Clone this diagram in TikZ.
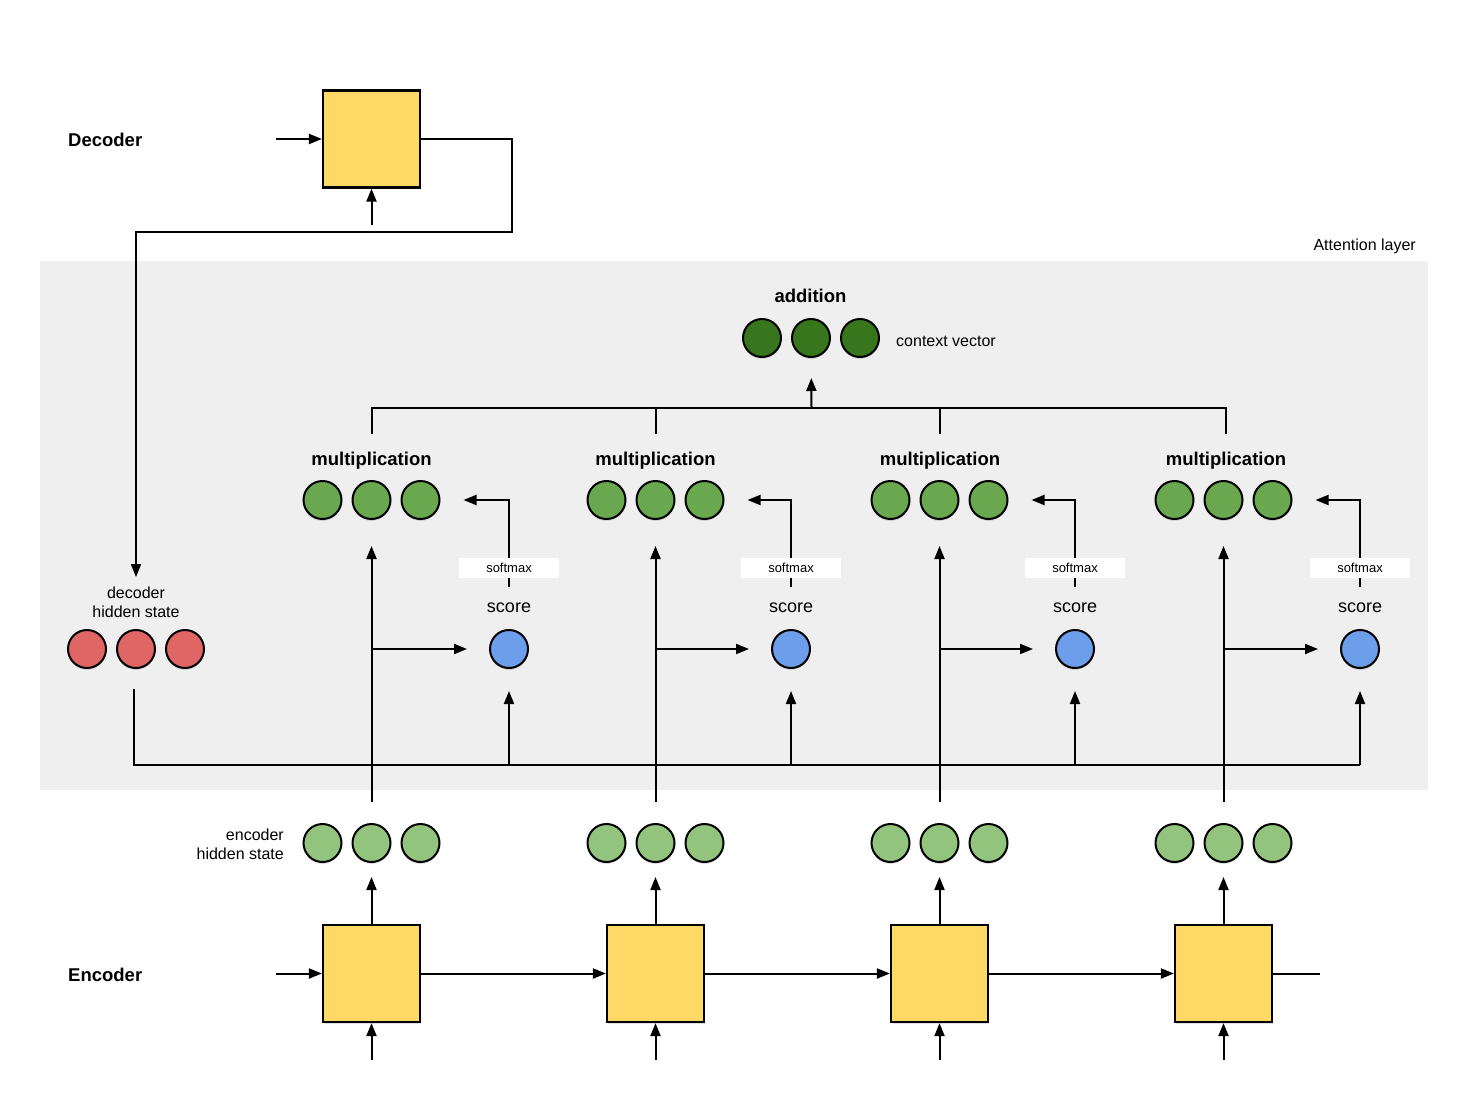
\documentclass[tikz,border=0pt]{standalone}
\usepackage{fontspec}
\setmainfont{Liberation Sans}
\usetikzlibrary{arrows.meta,shadows}
\definecolor{cellyellow}{HTML}{FFD966}
\definecolor{midgreen}{HTML}{6AA84F}
\definecolor{lightgreen}{HTML}{93C47D}
\definecolor{darkgreen}{HTML}{38761D}
\definecolor{softred}{HTML}{E06666}
\definecolor{softblue}{HTML}{6D9EEB}
\definecolor{attnbg}{HTML}{EFEFEF}
\tikzset{
  cell/.style={draw=black, fill=cellyellow, line width=2.2pt, minimum size=97pt, inner sep=0pt,
    drop shadow={shadow xshift=1pt, shadow yshift=-2pt, opacity=0.25}},
  dot/.style={circle, draw=black, line width=2pt, minimum size=38pt, inner sep=0pt,
    drop shadow={shadow xshift=0pt, shadow yshift=-2pt, opacity=0.25}},
  wire/.style={draw=black, line width=2pt},
  arr/.style={wire, -{Triangle[length=13pt,width=10pt]}},
  boldlbl/.style={font=\fontsize{18.5}{22}\selectfont\bfseries, inner sep=0pt},
  lbl/.style={font=\fontsize{16}{19}\selectfont, inner sep=0pt},
  scorelbl/.style={font=\fontsize{18}{21}\selectfont, inner sep=0pt},
  softbox/.style={fill=white, minimum width=100pt, minimum height=20pt, inner sep=0pt,
    font=\fontsize{13}{15}\selectfont}
}
\begin{document}
\begin{tikzpicture}[x=1pt,y=-1pt]
\useasboundingbox (0,0) rectangle (1463,1110);
\fill[attnbg] (40,261) rectangle (1428,790);
\node[lbl, anchor=east] (attnlbl) at (1416,246) {Attention layer};

% Decoder
\node[boldlbl, anchor=west] (declbl) at (68,140) {Decoder};
\node[cell] (dec) at (371.5,139) {};
\coordinate (decin) at (276,139);
\coordinate (decbot) at (371.5,225);
\coordinate (turn) at (512,232);
\coordinate (dhin) at (136,577);
\draw[arr] (decin) -- (dec);
\draw[arr] (decbot) -- (dec);
\draw[arr] (dec.east) -| (turn) -| (dhin);

% decoder hidden state
\node[lbl, align=center] (dhlbl) at (136,602.5) {decoder\\hidden state};
\node[dot, fill=softred] (dh1) at (87,649) {};
\node[dot, fill=softred] (dh2) at (136,649) {};
\node[dot, fill=softred] (dh3) at (185,649) {};

% context vector
\node[boldlbl] (addlbl) at (810.5,296) {addition};
\node[dot, fill=darkgreen] (cv1) at (762,338) {};
\node[dot, fill=darkgreen] (cv2) at (811,338) {};
\node[dot, fill=darkgreen] (cv3) at (860,338) {};
\node[lbl, anchor=west] (cvlbl) at (896,341) {context vector};
\coordinate (busup) at (811.5,408);
\draw[arr, shorten >=20pt] (busup) -- (cv2);

% Encoder
\node[boldlbl, anchor=west] (enclbl) at (68,975) {Encoder};
\node[lbl, align=right, anchor=east] (ehlbl) at (284,844.5) {encoder\\hidden state};

\foreach \i/\ex/\sx/\tx in {1/371.5/509/371.5, 2/655.5/791/655.5, 3/939.5/1075/940, 4/1223.5/1360/1226}{
  % encoder cell and hidden state
  \node[cell] (enc\i) at (\ex,973.5) {};
  \node[dot, fill=lightgreen] (eha\i) at (\ex-49,843) {};
  \node[dot, fill=lightgreen] (ehb\i) at (\ex,843) {};
  \node[dot, fill=lightgreen] (ehc\i) at (\ex+49,843) {};
  \coordinate (ein\i) at (\ex,1060);
  \draw[arr] (ein\i) -- (enc\i);
  \draw[arr, shorten >=14pt] (enc\i) -- (ehb\i);
  % multiplication
  \node[boldlbl] (mlbl\i) at (\tx,460.5) {multiplication};
  \node[dot, fill=midgreen] (ma\i) at (\ex-49,500) {};
  \node[dot, fill=midgreen] (mb\i) at (\ex,500) {};
  \node[dot, fill=midgreen] (mc\i) at (\ex+49,500) {};
  \coordinate (vb\i) at (\ex,802);
  \draw[arr, shorten >=26pt] (vb\i) -- (mb\i);
  % score
  \node[dot, fill=softblue] (s\i) at (\sx,649) {};
  \node[scorelbl] (sl\i) at (\sx,608) {score};
  \coordinate (br\i) at (\ex,649);
  \draw[arr, shorten >=22pt] (br\i) -- (s\i);
  \coordinate (st\i) at (\sx,587);
  \draw[arr, shorten >=23pt] (st\i) |- (mc\i);
  \node[softbox] (sm\i) at (\sx,568) {softmax};
  \coordinate (sb\i) at (\sx,765);
  \draw[arr, shorten >=22pt] (sb\i) -- (s\i);
  % top bus drop
  \coordinate (mt\i) at (\tx,434);
  \draw[wire] (mt\i) -- (\tx,408);
}
\draw[wire] (mt1) -- (371.5,408) -- (1226,408) -- (mt4);

% bottom bus
\coordinate (dhout) at (134,689);
\draw[wire] (dhout) |- (sb4);

% encoder chain
\coordinate (encin) at (276,973.5);
\coordinate (encout) at (1320,973.5);
\draw[arr] (encin) -- (enc1);
\draw[arr] (enc1) -- (enc2);
\draw[arr] (enc2) -- (enc3);
\draw[arr] (enc3) -- (enc4);
\draw[wire] (enc4) -- (encout);
\end{tikzpicture}
\end{document}
